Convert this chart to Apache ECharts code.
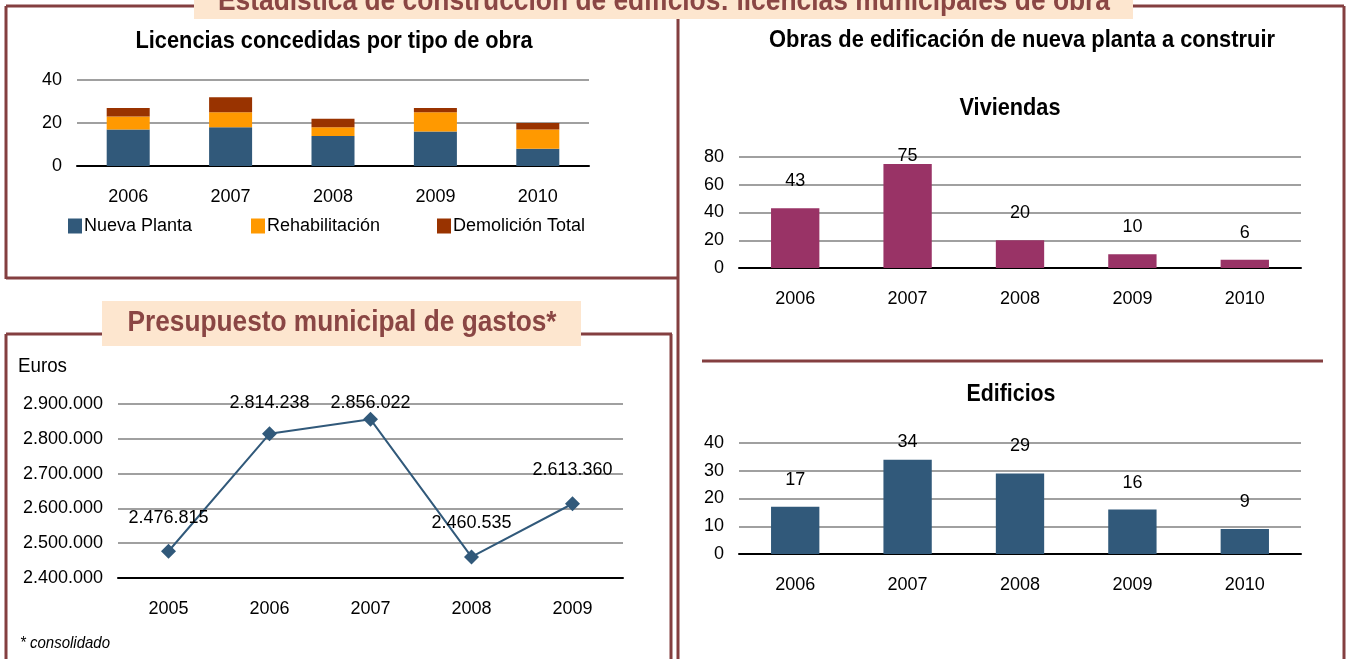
<!DOCTYPE html>
<html>
<head>
<meta charset="utf-8">
<title>Estadística de construcción de edificios</title>
<script src="https://cdn.jsdelivr.net/npm/echarts@6/dist/echarts.min.js"></script>
<style>
html,body{margin:0;padding:0;background:#fff;}
#main{width:1346px;height:659px;}
</style>
</head>
<body>
<div id="main"></div>
<script>
// datos
var years = ['2006', '2007', '2008', '2009', '2010'];
var nuevaPlanta = [17, 18, 14, 16, 8];
var rehabilitacion = [6, 7, 4, 9, 9];
var demolicion = [4, 7, 4, 2, 3];
var licTicks = [0, 20, 40];

var viviendas = [43, 75, 20, 10, 6];
var vivTicks = [0, 20, 40, 60, 80];
var edificios = [17, 34, 29, 16, 9];
var edifTicks = [0, 10, 20, 30, 40];

var gastosYears = ['2005', '2006', '2007', '2008', '2009'];
var gastos = [2476815, 2814238, 2856022, 2460535, 2613360];
var gastosTicks = [2400000, 2500000, 2600000, 2700000, 2800000, 2900000];

var SANS = '"Liberation Sans",Arial,sans-serif';
var BROWN = '#843F40';
var PEACH = '#FDE6CF';
var AZUL = '#31597A';

// grids (px)
var g1 = {left: 77, top: 80, width: 512, height: 86};
var g2 = {left: 739, top: 157, width: 562, height: 111};
var g3 = {left: 739, top: 443, width: 562, height: 111};
var g4 = {left: 118, top: 404, width: 505, height: 174};

function miles(v) {
	return String(v).replace(/\B(?=(\d{3})+(?!\d))/g, '.');
}

function catAxis(gi, data) {
	return {
		type: 'category', gridIndex: gi, data: data,
		axisTick: {show: false},
		axisLine: {lineStyle: {color: '#000', width: 2}},
		axisLabel: {color: '#000', fontSize: 18, fontFamily: SANS, margin: 22}
	};
}

function valAxis(gi, ticks, fmt) {
	return {
		type: 'value', gridIndex: gi,
		min: ticks[0], max: ticks[ticks.length - 1], interval: ticks[1] - ticks[0],
		axisLine: {show: false}, axisTick: {show: false},
		splitLine: {lineStyle: {color: '#A0A0A0', width: 2}},
		axisLabel: {color: '#000', fontSize: 18, fontFamily: SANS, margin: 15, formatter: fmt}
	};
}

// etiquetas encima de la barra, sin salirse mas de 10px por encima del area
function barData(values, ticks, h) {
	var max = ticks[ticks.length - 1];
	return values.map(function (v) {
		var d = Math.min(18, h * (1 - v / max) - 8);
		return {value: v, label: {distance: d}};
	});
}

function lineData(values, ticks, h) {
	var min = ticks[0], max = ticks[ticks.length - 1];
	return values.map(function (v) {
		var d = Math.min(17, h * (max - v) / (max - min) - 15.5);
		return {value: v, label: {distance: d}};
	});
}

function stackBar(name, data, color) {
	return {
		name: name, type: 'bar', stack: 'lic', xAxisIndex: 0, yAxisIndex: 0,
		barWidth: '42%', data: data, itemStyle: {color: color}
	};
}

function legendItem(name, left) {
	return {
		data: [name], left: left, top: 217, padding: 0,
		itemWidth: 14, itemHeight: 15, icon: 'rect', itemGap: 2,
		textStyle: {fontSize: 18, fontFamily: SANS, color: '#000', padding: [0, 0, 0, -3]}
	};
}

function line(x1, y1, x2, y2) {
	return {type: 'line', z: 1, shape: {x1: x1, y1: y1, x2: x2, y2: y2}, style: {stroke: BROWN, lineWidth: 3}};
}

// texto estrecho: se comprime en horizontal hasta el ancho del original
var ctx = document.createElement('canvas').getContext('2d');
function txt(x, y, text, font, width, color, align) {
	ctx.font = font;
	var w = ctx.measureText(text).width;
	return {
		type: 'text', z: 3, x: x, y: y, scaleX: width / w,
		style: {text: text, font: font, fill: color || '#000', textAlign: align || 'center', textVerticalAlign: 'middle'}
	};
}

var myChart = echarts.init(document.getElementById('main'));

var option = {
	animation: false,
	grid: [g1, g2, g3, g4],
	xAxis: [catAxis(0, years), catAxis(1, years), catAxis(2, years), catAxis(3, gastosYears)],
	yAxis: [
		valAxis(0, licTicks),
		valAxis(1, vivTicks),
		valAxis(2, edifTicks),
		valAxis(3, gastosTicks, miles)
	],
	legend: [
		legendItem('Nueva Planta', 68),
		legendItem('Rehabilitación', 251),
		legendItem('Demolición Total', 437)
	],
	series: [
		stackBar('Nueva Planta', nuevaPlanta, AZUL),
		stackBar('Rehabilitación', rehabilitacion, '#FF9900'),
		stackBar('Demolición Total', demolicion, '#993300'),
		{
			name: 'Viviendas', type: 'bar', xAxisIndex: 1, yAxisIndex: 1, barWidth: '43%',
			data: barData(viviendas, vivTicks, g2.height),
			itemStyle: {color: '#993366'},
			label: {show: true, position: 'top', color: '#000', fontSize: 18, fontFamily: SANS}
		},
		{
			name: 'Edificios', type: 'bar', xAxisIndex: 2, yAxisIndex: 2, barWidth: '43%',
			data: barData(edificios, edifTicks, g3.height),
			itemStyle: {color: AZUL},
			label: {show: true, position: 'top', color: '#000', fontSize: 18, fontFamily: SANS}
		},
		{
			name: 'Gastos', type: 'line', xAxisIndex: 3, yAxisIndex: 3,
			data: lineData(gastos, gastosTicks, g4.height),
			symbol: 'diamond', symbolSize: 15,
			lineStyle: {color: AZUL, width: 2},
			itemStyle: {color: AZUL},
			label: {
				show: true, position: 'top', color: '#000', fontSize: 18, fontFamily: SANS,
				formatter: function (p) { return miles(p.value); }
			}
		}
	],
	graphic: {
		elements: [
			line(6, 6, 1344, 6),
			line(6, 6, 6, 279),
			line(6, 278, 679, 278),
			line(678, 6, 678, 659),
			line(1344, 6, 1344, 659),
			line(6, 334, 672, 334),
			line(6, 334, 6, 659),
			line(671, 334, 671, 659),
			line(702, 361, 1323, 361),
			{type: 'rect', z: 2, shape: {x: 194, y: 0, width: 939, height: 19}, style: {fill: PEACH}},
			{type: 'rect', z: 2, shape: {x: 102, y: 301, width: 479, height: 45}, style: {fill: PEACH}},
			txt(664, 1.5, 'Estadística de construcción de edificios: licencias municipales de obra', 'bold 30px ' + SANS, 892, '#8A4644'),
			txt(342, 323, 'Presupuesto municipal de gastos*', 'bold 30px ' + SANS, 429, '#8A4644'),
			txt(334, 41, 'Licencias concedidas por tipo de obra', 'bold 24px ' + SANS, 397),
			txt(1022, 40, 'Obras de edificación de nueva planta a construir', 'bold 24px ' + SANS, 506),
			txt(1010, 108, 'Viviendas', 'bold 24px ' + SANS, 101),
			txt(1011, 394, 'Edificios', 'bold 24px ' + SANS, 89),
			txt(18, 366, 'Euros', '20px ' + SANS, 49, '#000', 'left'),
			txt(20, 643, '* consolidado', 'italic 17px ' + SANS, 90, '#000', 'left')
		]
	}
};

myChart.setOption(option);
</script>
</body>
</html>
